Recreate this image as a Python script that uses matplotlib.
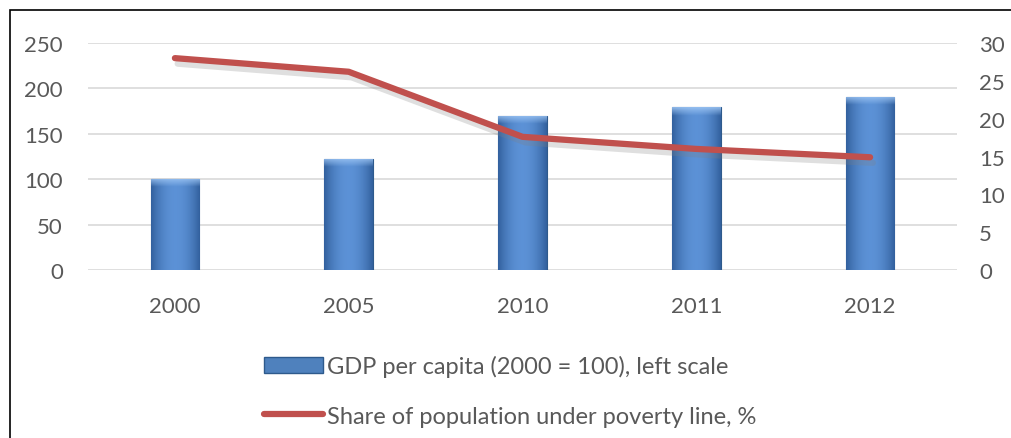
import matplotlib
matplotlib.use("Agg")
import matplotlib.pyplot as plt
import matplotlib.patheffects as pe
from matplotlib.patches import Patch, Rectangle
from matplotlib.lines import Line2D
import numpy as np

years = ["2000", "2005", "2010", "2011", "2012"]
gdp_index = [100, 122, 170, 179, 191]
poverty_share = [28.0, 26.2, 17.6, 16.0, 14.9]

left_ticks = [0, 50, 100, 150, 200, 250]
right_ticks = [0, 5, 10, 15, 20, 25, 30]

text_col = "#595959"
bar_col = "#4F81BD"
line_col = "#C0504D"

plt.rcParams["font.family"] = ["Lato", "DejaVu Sans"]

fig = plt.figure(figsize=(10.11, 4.39), dpi=100)
ax = fig.add_axes([88 / 1011, 1 - 271 / 439, (957 - 88) / 1011, (271 - 44) / 439])

x = np.arange(len(years))
bars = ax.bar(x, gdp_index, width=0.28, color=bar_col, edgecolor="#2E5A8C", linewidth=0.8, zorder=2)

# horizontal gradient inside each bar, darker at the edges
grad = np.linspace(-1, 1, 64)
shade = 1 - np.abs(grad) ** 2
dark = np.array([0.20, 0.38, 0.62])
light = np.array([0.36, 0.57, 0.84])
img = dark[None, :] + (light - dark)[None, :] * shade[:, None]
img = img[None, :, :]

# soft highlight at the top of each bar, fading downward
hl = np.zeros((16, 1, 4))
hl[:, 0, :3] = [0.62, 0.78, 0.96]
hl[:, 0, 3] = np.linspace(0.85, 0.0, 16)

for b in bars:
    x0, w, h = b.get_x(), b.get_width(), b.get_height()
    im = ax.imshow(img, extent=[x0, x0 + w, 0, h], aspect="auto", zorder=2.1, interpolation="bilinear")
    im.set_clip_path(b)
    top = ax.imshow(hl, extent=[x0, x0 + w, h - 9, h], aspect="auto", zorder=2.2,
                    interpolation="bilinear")
    top.set_clip_path(b)

ax.set_xlim(-0.5, len(years) - 0.5)
ax.set_ylim(0, 250)
ax.set_yticks(left_ticks)
ax.set_xticks(x)
ax.set_xticklabels(years)
ax.grid(axis="y", color="#D9D9D9", linewidth=1.2, zorder=0)
ax.set_axisbelow(True)
for s in ax.spines.values():
    s.set_visible(False)
ax.tick_params(axis="y", length=0, pad=18, labelsize=16, labelcolor=text_col)
ax.tick_params(axis="x", length=0, pad=19, labelsize=16, labelcolor=text_col)

ax2 = ax.twinx()
ax2.set_ylim(0, 30)
ax2.set_yticks(right_ticks)
for s in ax2.spines.values():
    s.set_visible(False)
ax2.tick_params(axis="y", length=0, pad=16, labelsize=16, labelcolor=text_col)
ax2.plot(x, poverty_share, color=line_col, linewidth=4.5, solid_capstyle="round", zorder=3,
         path_effects=[pe.SimpleLineShadow(offset=(2, -4), shadow_color="gray", alpha=0.25),
                       pe.Normal()])

handles = [Patch(facecolor=bar_col, edgecolor="#2E5A8C"),
           Line2D([0], [0], color=line_col, linewidth=4.5, solid_capstyle="round")]
labels = ["GDP per capita (2000 = 100), left scale", "Share of population under poverty line, %"]
fig.legend(handles, labels, loc="upper left", bbox_to_anchor=(243 / 1011, 1 - 335 / 439),
           frameon=False, fontsize=17, labelcolor=text_col, handlelength=2.5, handletextpad=0.15,
           labelspacing=1.2)

# outer border of the chart box
fig.patches.append(Rectangle((10 / 1011, -0.1), 1.2, 1 - 11 / 439 + 0.1, transform=fig.transFigure,
                             fill=False, edgecolor="black", linewidth=1.2))

fig.savefig("out.png", dpi=100, facecolor="white")
